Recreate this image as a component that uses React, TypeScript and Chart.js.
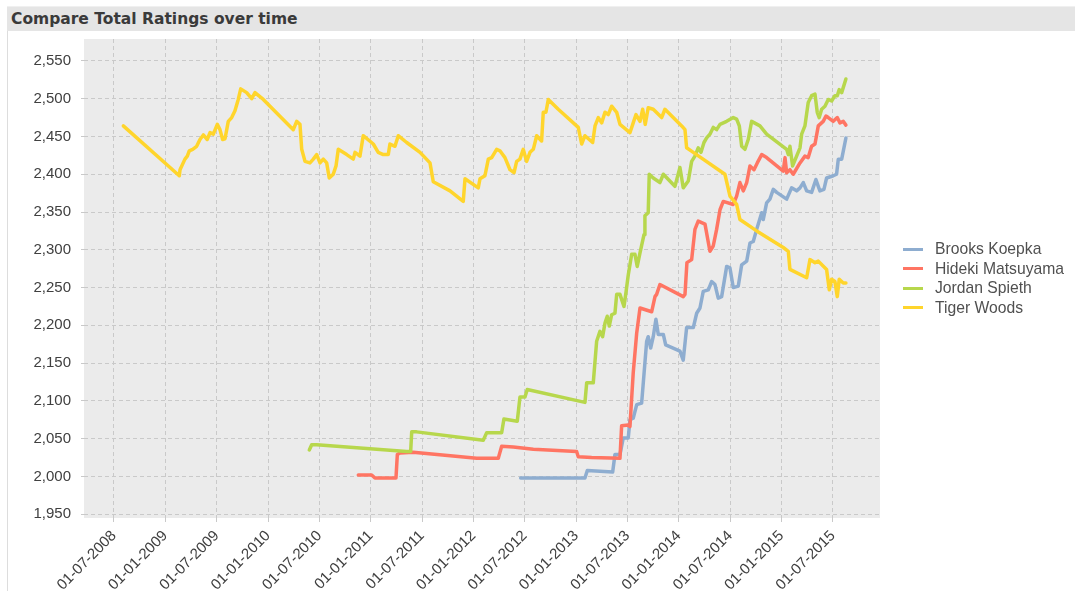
import React, { useEffect, useRef } from 'react';
import { Chart, registerables } from 'chart.js';

Chart.register(...registerables);

// Dates are decimal years (e.g. 2013.5 = 1 July 2013); values are total ratings
const seriesNames = ['Brooks Koepka', 'Hideki Matsuyama', 'Jordan Spieth', 'Tiger Woods'];
const seriesColors = ['#8eadd0', '#ff7563', '#b7d74c', '#ffd52c'];

const brooksKoepka: [number, number][] = [
  [2012.46, 1998], [2013.086, 1998], [2013.109, 2008], [2013.356, 2006], [2013.378, 2029], [2013.427, 2029],
  [2013.459, 2051], [2013.508, 2051], [2013.524, 2075], [2013.556, 2077], [2013.59, 2095], [2013.638, 2097],
  [2013.687, 2179], [2013.702, 2185], [2013.726, 2170], [2013.751, 2185], [2013.777, 2208], [2013.8, 2188],
  [2013.849, 2188], [2013.872, 2174], [2014.011, 2166], [2014.043, 2154], [2014.076, 2197], [2014.141, 2197],
  [2014.174, 2216], [2014.206, 2223], [2014.238, 2245], [2014.287, 2247], [2014.32, 2258], [2014.352, 2254],
  [2014.384, 2236], [2014.417, 2238], [2014.466, 2278], [2014.498, 2276], [2014.53, 2250], [2014.579, 2252],
  [2014.612, 2280], [2014.661, 2285], [2014.693, 2309], [2014.725, 2311], [2014.758, 2327], [2014.807, 2349],
  [2014.822, 2340], [2014.855, 2362], [2014.887, 2367], [2014.92, 2380], [2014.953, 2376], [2015.05, 2367],
  [2015.098, 2382], [2015.147, 2378], [2015.18, 2382], [2015.212, 2389], [2015.245, 2378], [2015.293, 2376],
  [2015.335, 2393], [2015.358, 2384], [2015.374, 2378], [2015.413, 2380], [2015.439, 2395], [2015.504, 2398],
  [2015.536, 2400], [2015.553, 2420], [2015.586, 2420], [2015.627, 2448],
];

const hidekiMatsuyama: [number, number][] = [
  [2010.879, 2002], [2011.009, 2002], [2011.041, 1998], [2011.246, 1998], [2011.259, 2029], [2011.285, 2031],
  [2011.414, 2032], [2012.032, 2024], [2012.242, 2024], [2012.275, 2040], [2012.388, 2039], [2012.583, 2036],
  [2013.005, 2033], [2013.021, 2026], [2013.151, 2025], [2013.427, 2024], [2013.443, 2067], [2013.508, 2068],
  [2013.524, 2066], [2013.556, 2137], [2013.59, 2190], [2013.622, 2223], [2013.736, 2218], [2013.768, 2238],
  [2013.784, 2241], [2013.816, 2254], [2014.043, 2238], [2014.06, 2241], [2014.079, 2283], [2014.125, 2287],
  [2014.157, 2327], [2014.189, 2338], [2014.255, 2334], [2014.303, 2298], [2014.335, 2305], [2014.368, 2327],
  [2014.401, 2353], [2014.433, 2364], [2014.53, 2360], [2014.563, 2371], [2014.595, 2389], [2014.628, 2378],
  [2014.661, 2389], [2014.693, 2411], [2014.732, 2406], [2014.764, 2415], [2014.807, 2426], [2014.855, 2422],
  [2015.017, 2404], [2015.034, 2422], [2015.05, 2402], [2015.082, 2406], [2015.114, 2400], [2015.18, 2415],
  [2015.228, 2424], [2015.26, 2422], [2015.293, 2437], [2015.326, 2440], [2015.358, 2464], [2015.406, 2470],
  [2015.433, 2477], [2015.455, 2475], [2015.504, 2470], [2015.543, 2475], [2015.569, 2468], [2015.601, 2470],
  [2015.627, 2465],
];

const jordanSpieth: [number, number][] = [
  [2010.402, 2035], [2010.425, 2042], [2010.474, 2042], [2011.35, 2033], [2011.389, 2033], [2011.399, 2059],
  [2011.447, 2059], [2012.096, 2048], [2012.129, 2058], [2012.275, 2058], [2012.297, 2076], [2012.427, 2073],
  [2012.453, 2105], [2012.502, 2105], [2012.524, 2115], [2013.086, 2098], [2013.103, 2124], [2013.167, 2124],
  [2013.2, 2179], [2013.232, 2192], [2013.258, 2185], [2013.281, 2203], [2013.303, 2212], [2013.323, 2199],
  [2013.346, 2214], [2013.378, 2216], [2013.395, 2241], [2013.427, 2241], [2013.466, 2225], [2013.485, 2243],
  [2013.508, 2267], [2013.541, 2294], [2013.573, 2294], [2013.595, 2278], [2013.622, 2296], [2013.661, 2320],
  [2013.67, 2345], [2013.702, 2349], [2013.712, 2400], [2013.751, 2395], [2013.816, 2389], [2013.849, 2400],
  [2013.962, 2384], [2014.011, 2409], [2014.043, 2382], [2014.092, 2391], [2014.125, 2417], [2014.157, 2424],
  [2014.189, 2435], [2014.216, 2429], [2014.245, 2442], [2014.271, 2448], [2014.303, 2453], [2014.335, 2462],
  [2014.368, 2459], [2014.401, 2466], [2014.466, 2470], [2014.53, 2475], [2014.563, 2473], [2014.589, 2464],
  [2014.612, 2437], [2014.644, 2433], [2014.676, 2446], [2014.709, 2470], [2014.79, 2464], [2014.855, 2453],
  [2015.05, 2433], [2015.066, 2426], [2015.082, 2437], [2015.108, 2411], [2015.147, 2424], [2015.18, 2435],
  [2015.196, 2453], [2015.228, 2464], [2015.26, 2495], [2015.293, 2504], [2015.326, 2506], [2015.348, 2482],
  [2015.367, 2475], [2015.391, 2486], [2015.423, 2490], [2015.455, 2499], [2015.488, 2497], [2015.52, 2504],
  [2015.543, 2504], [2015.562, 2512], [2015.586, 2508], [2015.627, 2526],
];

const tigerWoods: [number, number][] = [
  [2008.591, 2464], [2009.136, 2398], [2009.143, 2406], [2009.191, 2420], [2009.214, 2424], [2009.233, 2431],
  [2009.266, 2433], [2009.305, 2437], [2009.337, 2446], [2009.37, 2452], [2009.408, 2446], [2009.435, 2455],
  [2009.467, 2453], [2009.506, 2466], [2009.532, 2459], [2009.558, 2446], [2009.581, 2447], [2009.613, 2470],
  [2009.646, 2475], [2009.678, 2484], [2009.71, 2499], [2009.734, 2513], [2009.792, 2508], [2009.841, 2500],
  [2009.873, 2508], [2009.954, 2499], [2010.246, 2459], [2010.279, 2470], [2010.311, 2466], [2010.328, 2433],
  [2010.36, 2417], [2010.408, 2415], [2010.441, 2420], [2010.474, 2426], [2010.506, 2415], [2010.538, 2420],
  [2010.571, 2415], [2010.596, 2395], [2010.635, 2400], [2010.662, 2411], [2010.684, 2433], [2010.766, 2426],
  [2010.83, 2420], [2010.847, 2429], [2010.895, 2424], [2010.927, 2451], [2011.025, 2440], [2011.073, 2429],
  [2011.122, 2426], [2011.171, 2426], [2011.187, 2440], [2011.236, 2437], [2011.268, 2451], [2011.35, 2442],
  [2011.48, 2429], [2011.577, 2415], [2011.609, 2390], [2011.772, 2378], [2011.901, 2364], [2011.918, 2394],
  [2012.047, 2382], [2012.064, 2394], [2012.112, 2398], [2012.145, 2420], [2012.178, 2422], [2012.226, 2433],
  [2012.258, 2431], [2012.307, 2422], [2012.356, 2406], [2012.395, 2402], [2012.421, 2417], [2012.453, 2420],
  [2012.485, 2433], [2012.518, 2417], [2012.551, 2429], [2012.583, 2433], [2012.616, 2451], [2012.664, 2444],
  [2012.68, 2482], [2012.706, 2482], [2012.729, 2499], [2012.826, 2486], [2013.021, 2462], [2013.054, 2440],
  [2013.086, 2451], [2013.161, 2442], [2013.184, 2464], [2013.216, 2475], [2013.249, 2468], [2013.281, 2482],
  [2013.313, 2479], [2013.346, 2490], [2013.395, 2482], [2013.427, 2466], [2013.524, 2455], [2013.556, 2468],
  [2013.583, 2479], [2013.622, 2470], [2013.648, 2486], [2013.673, 2466], [2013.702, 2488], [2013.751, 2486],
  [2013.833, 2475], [2013.865, 2486], [2014.028, 2464], [2014.06, 2459], [2014.076, 2435], [2014.141, 2429],
  [2014.449, 2400], [2014.498, 2371], [2014.563, 2360], [2014.595, 2340], [2014.758, 2325], [2015.017, 2303],
  [2015.066, 2298], [2015.082, 2274], [2015.245, 2263], [2015.277, 2287], [2015.326, 2283], [2015.358, 2285],
  [2015.439, 2274], [2015.465, 2247], [2015.488, 2261], [2015.52, 2258], [2015.543, 2238], [2015.562, 2261],
  [2015.601, 2256], [2015.627, 2256],
];

const xTickLabels = [
  '01-07-2008', '01-01-2009', '01-07-2009', '01-01-2010', '01-07-2010', '01-01-2011', '01-07-2011',
  '01-01-2012', '01-07-2012', '01-01-2013', '01-07-2013', '01-01-2014', '01-07-2014', '01-01-2015', '01-07-2015',
];
const yTickValues = [1950, 2000, 2050, 2100, 2150, 2200, 2250, 2300, 2350, 2400, 2450, 2500, 2550];

const xMin = 2008.208;
const xMax = 2015.959;
const yMin = 1945;
const yMax = 2579;

const labelToYear = (s: string) => {
  const [, mm, yyyy] = s.split('-').map(Number);
  return yyyy + (mm - 1) / 12;
};
const xTickValues = xTickLabels.map(labelToYear);

const allSeries = [brooksKoepka, hidekiMatsuyama, jordanSpieth, tigerWoods];

const FONT = '"Liberation Sans", Arial, sans-serif';

const plotBg = {
  id: 'plotBg',
  beforeDraw(chart: any) {
    const { ctx, chartArea } = chart;
    ctx.save();
    ctx.fillStyle = '#ebebeb';
    ctx.fillRect(chartArea.left, chartArea.top, chartArea.right - chartArea.left, chartArea.bottom - chartArea.top);
    ctx.restore();
  },
};

export default function App() {
  const ref = useRef<HTMLCanvasElement>(null);

  useEffect(() => {
    if (!ref.current) return;
    const chart = new Chart(ref.current, {
      type: 'line',
      data: {
        datasets: allSeries.map((s, i) => ({
          label: seriesNames[i],
          data: s.map(([x, y]) => ({ x, y })),
          borderColor: seriesColors[i],
          backgroundColor: seriesColors[i],
          borderWidth: 3.5,
          pointRadius: 0,
          tension: 0,
          fill: false,
          borderJoinStyle: 'round',
          borderCapStyle: 'round',
          order: 3 - i,
        })),
      },
      options: {
        animation: false,
        responsive: false,
        maintainAspectRatio: false,
        events: [],
        layout: { padding: { top: 39, right: 195, left: 0, bottom: 0 } },
        plugins: {
          legend: { display: false },
          title: { display: false },
          tooltip: { enabled: false },
        },
        scales: {
          x: {
            type: 'linear',
            min: xMin,
            max: xMax,
            afterBuildTicks: (scale: any) => {
              scale.ticks = xTickValues.map((v) => ({ value: v }));
            },
            afterFit: (scale: any) => {
              scale.height = 73;
            },
            grid: {
              color: '#c9c9c9',
              lineWidth: 1,
              borderDash: [4, 3],
              drawTicks: true,
              tickLength: 6,
              tickColor: '#c9c9c9',
              tickBorderDash: [4, 3],
            },
            border: { display: false, dash: [4, 3] },
            ticks: {
              autoSkip: false,
              maxRotation: 45,
              minRotation: 45,
              padding: 3,
              color: '#404040',
              font: { family: FONT, size: 15 },
              callback: (value: any) => {
                const idx = xTickValues.findIndex((v) => Math.abs(v - Number(value)) < 1e-6);
                return idx >= 0 ? xTickLabels[idx] : '';
              },
            },
          },
          y: {
            type: 'linear',
            min: yMin,
            max: yMax,
            afterBuildTicks: (scale: any) => {
              scale.ticks = yTickValues.map((v) => ({ value: v }));
            },
            afterFit: (scale: any) => {
              scale.width = 84;
            },
            grid: {
              color: '#c9c9c9',
              lineWidth: 1,
              borderDash: [4, 3],
              drawTicks: true,
              tickLength: 3,
              tickColor: '#c9c9c9',
              tickBorderDash: [4, 3],
            },
            border: { display: false, dash: [4, 3] },
            ticks: {
              padding: 10,
              color: '#404040',
              font: { family: FONT, size: 15 },
              callback: (value: any) => Number(value).toLocaleString('en-US'),
            },
          },
        },
      },
      plugins: [plotBg],
    } as any);
    return () => chart.destroy();
  }, []);

  const legendTops = [249, 268.5, 288, 307.5];

  return (
    <div
      style={{
        position: 'absolute',
        left: 0,
        top: 0,
        width: 1075,
        height: 591,
        background: '#ffffff',
        overflow: 'hidden',
      }}
    >
      <canvas
        ref={ref}
        width={1075}
        height={591}
        style={{ position: 'absolute', left: 0, top: 0, width: 1075, height: 591 }}
      />
      <div
        style={{
          position: 'absolute',
          left: 7,
          top: 6,
          right: 0,
          height: 24,
          background: '#e5e5e5',
          borderTop: '1px solid #f0f0f0',
          fontFamily: '"DejaVu Sans", Verdana, sans-serif',
          fontWeight: 'bold',
          fontSize: 15.5,
          lineHeight: '24px',
          color: '#3a3a3a',
          paddingLeft: 4,
          whiteSpace: 'nowrap',
        }}
      >
        Compare Total Ratings over time
      </div>
      <div
        style={{
          position: 'absolute',
          left: 7,
          top: 31,
          bottom: 0,
          width: 1,
          background: '#dddddd',
        }}
      />
      {seriesNames.map((name, i) => (
        <React.Fragment key={name}>
          <div
            style={{
              position: 'absolute',
              left: 903,
              top: legendTops[i] - 1.5,
              width: 20,
              height: 3,
              background: seriesColors[i],
            }}
          />
          <div
            style={{
              position: 'absolute',
              left: 935,
              top: legendTops[i] - 10,
              height: 20,
              lineHeight: '20px',
              fontFamily: FONT,
              fontSize: 15.7,
              color: '#505050',
              whiteSpace: 'nowrap',
            }}
          >
            {name}
          </div>
        </React.Fragment>
      ))}
    </div>
  );
}
